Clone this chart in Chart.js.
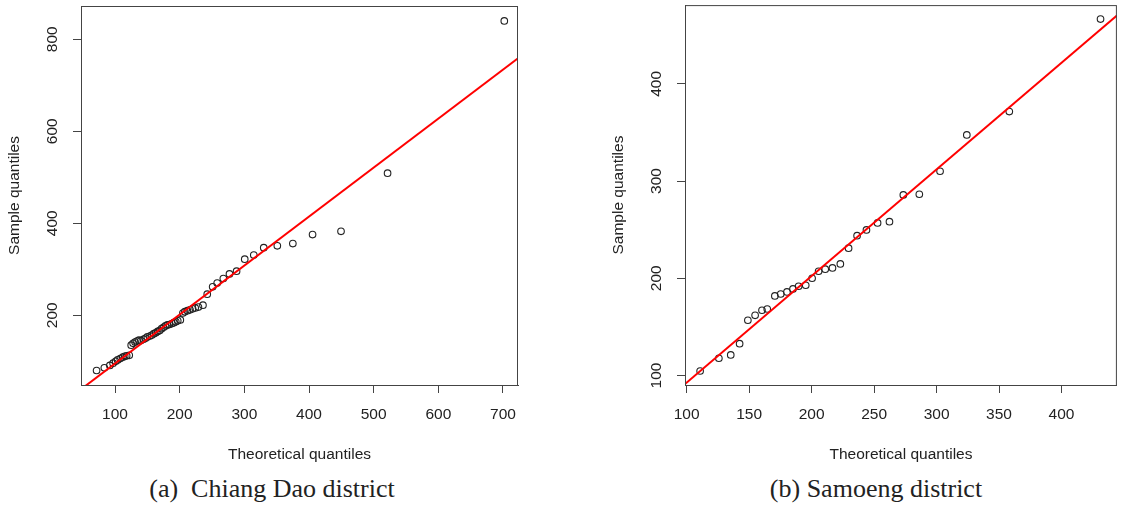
<!DOCTYPE html>
<html>
<head>
<meta charset="utf-8">
<script src="https://cdn.jsdelivr.net/npm/chart.js@4.4.1/dist/chart.umd.min.js"></script>
<style>
  body { margin: 0; background: #fff; }
  #wrap { position: relative; width: 1122px; height: 506px; overflow: hidden; background: #fff; }
  canvas { position: absolute; top: 0; }
  .caption {
    position: absolute; top: 474px; width: 400px; text-align: center; white-space: pre;
    font-family: "Liberation Serif", "DejaVu Serif", serif; font-size: 26px; color: #222; line-height: 30px;
  }
</style>
</head>
<body>
<div id="wrap">
  <canvas id="qqLeft" width="561" height="470" style="left:0"></canvas>
  <canvas id="qqRight" width="561" height="470" style="left:561px"></canvas>
  <div class="caption" style="left:72px">(a)  Chiang Dao district</div>
  <div class="caption" style="left:676px">(b) Samoeng district</div>
</div>
<script>
// Chiang Dao district (left panel)
const leftTheoretical = [71.5, 83.5, 92, 97, 101, 104, 108, 112, 115, 118, 122, 125, 128, 131, 134, 137, 140, 144, 147, 150,
  154, 157, 160, 163, 166, 169, 172, 175, 178, 181, 184, 188, 191, 194, 197, 201, 205, 208, 212, 216,
  220, 224, 229, 236, 242.6, 251, 258, 267.5, 277, 288, 300.6, 314.6, 330, 351, 375, 405.5, 449.5, 521.5, 702]
const leftSample = [80, 86, 91, 96, 100, 103, 106, 109, 111, 112, 113, 135, 139, 142, 144, 146, 145, 148, 150, 153,
  155, 157, 160, 162, 165, 167, 171, 174, 177, 179, 180, 182, 184, 186, 188, 190, 205, 208, 210, 212,
  214, 216, 218, 222, 246, 262, 270, 280, 290, 296, 322, 331, 347, 351, 356, 375.5, 382.6, 509, 840]
const leftLineSlope = 1.0648
const leftLineIntercept = -11.3
const leftXTicks = [100, 200, 300, 400, 500, 600, 700]
const leftYTicks = [200, 400, 600, 800]

// Samoeng district (right panel)
const rightTheoretical = [110.8, 125.8, 135.3, 142.4, 149, 154.8, 160.3, 164.5, 170.6, 175.3, 180.3, 185.1, 189.6, 195.3, 200.4,
  205.6, 210.9, 216.7, 223, 229.6, 236.4, 243.9, 252.8, 262.3, 273.4, 286.2, 302.8, 324.2, 358.2, 431.2]
const rightSample = [104.6, 117.7, 121.1, 132.7, 156.8, 161.9, 167.1, 168.4, 181.8, 183.8, 185.9, 189, 191.8, 192.8, 200,
  207.2, 209.3, 210.6, 214.7, 230.9, 243.8, 249.7, 256.9, 258.2, 285.7, 286.4, 310.1, 347.4, 371.5, 466.6]
const rightLineSlope = 1.097
const rightLineIntercept = -17.1
const rightXTicks = [100, 150, 200, 250, 300, 350, 400]
const rightYTicks = [100, 200, 300, 400]

const INK = "#222"
const AXIS = "#444"
const FONT = "'Liberation Sans', Arial, sans-serif"

// frame box + vertical (R-style) y tick labels
const rFramePlugin = {
  id: "rFrame",
  afterDraw(chart) {
    const { ctx, chartArea: a } = chart
    const y = chart.scales.y
    ctx.save()
    ctx.strokeStyle = AXIS
    ctx.lineWidth = 1
    ctx.strokeRect(a.left + 0.5, a.top + 0.5, a.right - a.left - 1, a.bottom - a.top)
    ctx.fillStyle = INK
    ctx.font = `15.5px ${FONT}`
    ctx.textAlign = "center"
    ctx.textBaseline = "middle"
    y.ticks.forEach((t) => {
      ctx.save()
      ctx.translate(a.left - 28, y.getPixelForValue(t.value))
      ctx.rotate(-Math.PI / 2)
      ctx.fillText(String(t.value), 0, 0)
      ctx.restore()
    })
    ctx.restore()
  }
}

function makeQQ(canvas, cfg) {
  const pts = cfg.xs.map((x, i) => ({ x, y: cfg.ys[i] }))
  const line = [cfg.xMin, cfg.xMax].map((x) => ({ x, y: cfg.intercept + cfg.slope * x }))
  const tickList = (list) => (scale) => { scale.ticks = list.map((v) => ({ value: v })) }

  return new Chart(canvas, {
    type: "scatter",
    data: {
      datasets: [
        {
          data: pts,
          pointStyle: "circle",
          pointRadius: 3.3,
          pointBorderWidth: 1.1,
          pointBorderColor: "#222",
          pointBackgroundColor: "rgba(0,0,0,0)",
          showLine: false,
          order: 2
        },
        {
          data: line,
          showLine: true,
          borderColor: "#ff0000",
          borderWidth: 2,
          pointRadius: 0,
          clip: 0,
          order: 1
        }
      ]
    },
    options: {
      responsive: false,
      animation: false,
      events: [],
      layout: { padding: cfg.padding },
      plugins: { legend: { display: false }, tooltip: { enabled: false } },
      scales: {
        x: {
          type: "linear",
          min: cfg.xMin,
          max: cfg.xMax,
          afterBuildTicks: tickList(cfg.xTicks),
          afterFit: (s) => { s.height = 82 },
          border: { display: true, color: AXIS, width: 1 },
          grid: { display: true, drawOnChartArea: false, drawTicks: true, tickLength: 8, color: AXIS },
          ticks: { color: INK, font: { size: 15.5, family: FONT }, padding: 12, maxRotation: 0, autoSkip: false },
          title: { display: true, text: "Theoretical quantiles", color: INK, font: { size: 15.5, family: FONT }, padding: 3 }
        },
        y: {
          type: "linear",
          min: cfg.yMin,
          max: cfg.yMax,
          afterBuildTicks: tickList(cfg.yTicks),
          afterFit: (s) => { s.width = cfg.yWidth },
          border: { display: true, color: AXIS, width: 1 },
          grid: { display: true, drawOnChartArea: false, drawTicks: true, tickLength: 8, color: AXIS },
          ticks: { display: false },
          title: { display: true, text: "Sample quantiles", color: INK, font: { size: 15.5, family: FONT }, padding: cfg.titlePad }
        }
      }
    },
    plugins: [rFramePlugin]
  })
}

makeQQ(document.getElementById("qqLeft"), {
  xs: leftTheoretical, ys: leftSample,
  slope: leftLineSlope, intercept: leftLineIntercept,
  xTicks: leftXTicks, yTicks: leftYTicks,
  xMin: 47.4, xMax: 723.2, yMin: 48.5, yMax: 872.4,
  padding: { left: 0, right: 43, top: 6, bottom: 3 },
  yWidth: 81, titlePad: 5
})

makeQQ(document.getElementById("qqRight"), {
  xs: rightTheoretical, ys: rightSample,
  slope: rightLineSlope, intercept: rightLineIntercept,
  xTicks: rightXTicks, yTicks: rightYTicks,
  xMin: 98.7, xMax: 444.3, yMin: 90.2, yMax: 481,
  padding: { left: 42, right: 0, top: 5, bottom: 3 },
  yWidth: 82, titlePad: 6
})
</script>
</body>
</html>
